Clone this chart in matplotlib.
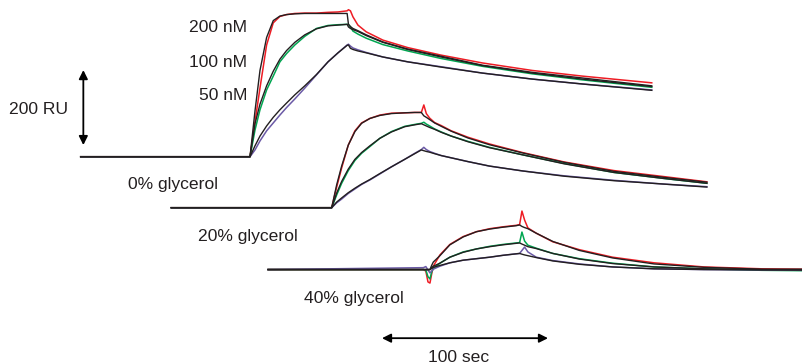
import matplotlib
matplotlib.use("Agg")
import matplotlib.pyplot as plt

plt.rcParams['font.family'] = ['Liberation Sans', 'DejaVu Sans']

# ---------------- data (time in s from injection start, response in RU above baseline) ----
CONC_LABELS = ["200 nM", "100 nM", "50 nM"]
PANEL_LABELS = ["0% glycerol", "20% glycerol", "40% glycerol"]

# Panel 1: 0% glycerol
P1_TIME = [-102, 0, 3, 6, 10, 14, 18, 22, 27, 33, 40, 47, 53, 58.5, 59.3, 60.5, 62, 65, 70, 80,
           95, 115, 140, 170, 200, 242]
P1_DATA_200 = [0, 0, 93, 183, 298, 357, 374, 379, 382, 383, 383, 385, 386, 389, 392, 389, 373, 351,
               333, 311, 291, 271, 250, 230, 215, 197]
P1_FIT_200 = [0, 0, 122, 230, 318, 363, 375, 379, 381, 382, 382, 382, 382, 382, 353, 347, 342, 336,
              325, 306, 287, 268, 244, 225, 210, 189]
P1_DATA_100 = [0, 0, 71, 125, 178, 215, 253, 275, 298, 321, 342, 350, 352, 353, 353, 346, 335, 327,
               316, 299, 282, 262, 241, 221, 205, 185]
P1_FIT_100 = [0, 0, 88, 140, 189, 228, 260, 283, 305, 325, 341, 349, 351, 353, 346, 342, 339, 334,
              323, 305, 286, 266, 243, 223, 207, 187]
P1_DATA_50 = [0, 0, 18, 42, 69, 90, 111, 131, 154, 183, 218, 253, 277, 298, 300, 295, 290, 285,
              278, 266, 253, 240, 223, 207, 194, 178]
P1_FIT_50 = [0, 0, 29, 55, 82, 105, 125, 143, 165, 189, 219, 253, 277, 297, 298, 289, 286, 282,
             277, 266, 253, 239, 223, 207, 194, 177]

# Panel 2: 20% glycerol
P2_TIME = [-96.6, 0, 3, 6, 10, 14, 18, 23, 29, 36, 44, 50, 54, 55.5, 57, 59, 62, 66, 72, 82,
           95, 115, 140, 170, 200, 226]
P2_DATA_200 = [0, 0, 55, 106, 167, 205, 226, 238, 247, 252, 253, 254, 254, 274, 251, 239, 227, 219,
               205, 188, 170, 147, 122, 99, 83, 69]
P2_FIT_200 = [0, 0, 61, 111, 167, 203, 225, 238, 246, 251, 253, 254, 254, 245, 241, 235, 226, 217,
              204, 186, 168, 146, 121, 97, 81, 68]
P2_DATA_100 = [0, 0, 34, 65, 99, 126, 145, 163, 185, 203, 217, 222, 225, 228, 223, 218, 210, 202,
               191, 177, 161, 141, 118, 94, 78, 65]
P2_FIT_100 = [0, 0, 39, 70, 103, 129, 147, 165, 185, 202, 216, 221, 224, 221, 218, 214, 209, 201,
              191, 176, 160, 141, 117, 94, 78, 65]
P2_DATA_50 = [0, 0, 13, 23, 38, 50, 62, 74, 90, 109, 129, 145, 155, 161, 155, 150, 145, 139,
              133, 123, 111, 98, 85, 73, 63, 56]
P2_FIT_50 = [0, 0, 15, 26, 40, 52, 63, 75, 91, 109, 129, 144, 154, 152, 150, 148, 144, 139,
             133, 123, 111, 98, 84, 72, 63, 55]

# Panel 3: 40% glycerol
P3_TIME = [-97.5, -4, -2.5, -1.2, 0, 1, 2, 6, 12, 20, 28, 36, 44, 52, 54, 55.4, 57, 59, 64, 74,
           90, 110, 135, 165, 200, 224]
P3_DATA_200 = [0, 0, -4, -33, -36, -12, 9, 39, 67, 88, 101, 109, 114, 118, 120, 156, 132, 111,
               97, 74, 53, 33, 18, 7, 2, 1]
P3_FIT_200 = [0, 0, 0, 0, 0, 11, 20, 37, 66, 87, 101, 108, 113, 117, 119, 115, 112, 109,
              97, 75, 51, 31, 15, 6, 1, 1]
P3_DATA_100 = [0, 0, -1, -19, -25, -7, 3, 17, 33, 47, 55, 62, 67, 71, 72, 100, 76, 65,
               57, 43, 29, 17, 7, 2, -2, -3]
P3_FIT_100 = [0, 0, 0, 0, 0, 5, 9, 17, 33, 46, 55, 61, 66, 70, 71, 68, 65, 61,
              56, 43, 28, 16, 7, 2, 0, -1]
P3_DATA_50 = [0, 5, 8, -1, -9, -4, 1, 9, 18, 25, 29, 33, 38, 42, 43, 51, 60, 47,
              33, 24, 15, 7, 2, 0, -1, -2]
P3_FIT_50 = [0, 0, 0, 0, 0, 3, 6, 11, 18, 25, 29, 33, 38, 42, 43, 41, 39, 37,
             32, 23, 14, 7, 2, 0, -1, -1]

# ---------------- layout / style ----------------
PANEL_SHIFT_S = [0, 49.2, 108.4]        # horizontal stagger of the panels (s)
PANEL_SHIFT_RU = [0, -136, -301]        # vertical stagger of the panels (RU)
DATA_COLORS = ['#ee1c24', '#00a651', '#6b5aa6']
FIT_COLOR = '#231f20'

panels = [
    (P1_TIME, [P1_DATA_200, P1_DATA_100, P1_DATA_50], [P1_FIT_200, P1_FIT_100, P1_FIT_50]),
    (P2_TIME, [P2_DATA_200, P2_DATA_100, P2_DATA_50], [P2_FIT_200, P2_FIT_100, P2_FIT_50]),
    (P3_TIME, [P3_DATA_200, P3_DATA_100, P3_DATA_50], [P3_FIT_200, P3_FIT_100, P3_FIT_50]),
]

W, H = 802, 363
fig = plt.figure(figsize=(W / 100, H / 100), dpi=100)
ax = fig.add_axes([0, 0, 1, 1])
ax.set_xlim(-150.6, 332.5)
ax.set_ylim(-550.2, 417.9)
ax.axis('off')

for (t, datas, fits), dx, dy in zip(panels, PANEL_SHIFT_S, PANEL_SHIFT_RU):
    tt = [v + dx for v in t]
    for d, c in zip(datas, DATA_COLORS):
        ax.plot(tt, [v + dy for v in d], color=c, lw=1.1, solid_joinstyle='round', zorder=2)
    for f in fits:
        ax.plot(tt, [v + dy for v in f], color=FIT_COLOR, lw=1.0, solid_joinstyle='round', zorder=3)

# scale bars
ax.annotate('', xy=(-100.4, 231), xytext=(-100.4, 31),
            arrowprops=dict(arrowstyle='<|-|>', color='black', lw=1.3, mutation_scale=13,
                            shrinkA=0, shrinkB=0))
ax.annotate('', xy=(179.5, -484), xytext=(79.5, -484),
            arrowprops=dict(arrowstyle='<|-|>', color='black', lw=1.3, mutation_scale=13,
                            shrinkA=0, shrinkB=0))

FS = 12.6
def label(x, y, s, ha='center'):
    ax.text(x / W, 1 - y / H, s, transform=ax.transAxes, ha=ha, va='baseline',
            fontsize=FS, color='#231f20')

label(247, 31.7, CONC_LABELS[0], ha='right')
label(247, 66.7, CONC_LABELS[1], ha='right')
label(247, 100, CONC_LABELS[2], ha='right')
label(39, 114, "200 RU")
label(173.5, 189, PANEL_LABELS[0])
label(247.8, 241, PANEL_LABELS[1])
label(353.8, 302.7, PANEL_LABELS[2])
label(458.3, 361.5, "100 sec")

fig.savefig('out.png', dpi=100)
